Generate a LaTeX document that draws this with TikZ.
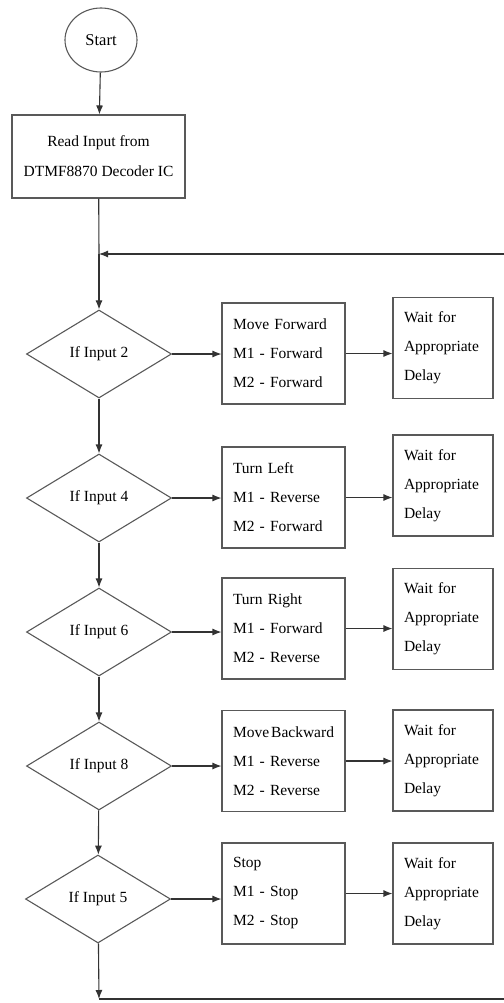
\documentclass[tikz,border=0pt]{standalone}
\usepackage{fontspec}
\setmainfont{Liberation Serif}
\usetikzlibrary{shapes.geometric, arrows.meta}
\tikzset{ term/.style = { ellipse
                        , draw = black!65
                        , line width   = 1.1pt
                        , inner sep    = 0pt
                        , minimum width  = 72pt
                        , minimum height = 64pt
                        , font = \fontsize{16.5}{20}\selectfont
                        },
          proc/.style = { rectangle
                        , draw = black!65
                        , line width   = 1.1pt
                        , align = center
                        , minimum width  = 173pt
                        , minimum height = 83pt
                        , font = \fontsize{15.5}{30}\selectfont
                        },
          decide/.style = { diamond
                        , draw = black!65
                        , line width   = 1.1pt
                        , inner sep    = 0pt
                        , minimum width  = 145pt
                        , minimum height = 88pt
                        , font = \fontsize{15.5}{20}\selectfont
                        },
          act/.style  = { rectangle
                        , draw = black!65
                        , line width   = 1.1pt
                        , align = left
                        , inner xsep = 11pt
                        , text width = 101pt
                        , minimum height = 101pt
                        , font = \fontsize{15.5}{29}\selectfont
                        },
          wbox/.style = { act
                        , text width = 78pt
                        },
          flow/.style = { draw = black!80
                        , line width = 1.1pt
                        , -{Latex[length=9pt, width=7pt]}
                        }
        }
\begin{document}
\begin{tikzpicture}[x=1pt, y=-1pt]
    \useasboundingbox (0,0) rectangle (503,1003);
    \node[term] (start) at (101,40)    {Start};
    \node[proc] (read)  at (98.5,156.5) {Read Input from\\DTMF8870 Decoder IC};
    \coordinate (join) at (99,254);
    % decisions
    \node[decide] (d1) at (99,354) {If Input 2};
    \node[decide] (d2) at (99,498) {If Input 4};
    \node[decide] (d3) at (99,632) {If Input 6};
    \node[decide] (d4) at (99,766) {If Input 8};
    \node[decide] (d5) at (98,899) {If Input 5};
    % motor actions
    \node[act] (b1) at (283.5,353.5) {Move Forward\\M1 - Forward\\M2 - Forward};
    \node[act] (b2) at (283.5,497.5) {Turn Left\\M1 - Reverse\\M2 - Forward};
    \node[act] (b3) at (283.5,628.5) {Turn Right\\M1 - Forward\\M2 - Reverse};
    \node[act] (b4) at (283.5,761)   {\mbox{Move\hspace{2pt}Backward}\\M1 - Reverse\\M2 - Reverse};
    \node[act] (b5) at (283.5,893.5) {Stop\\M1 - Stop\\M2 - Stop};
    % delays
    \node[wbox] (w1) at (443,348)   {Wait for\\Appropriate\\Delay};
    \node[wbox] (w2) at (443,485.5) {Wait for\\Appropriate\\Delay};
    \node[wbox] (w3) at (443,619)   {Wait for\\Appropriate\\Delay};
    \node[wbox] (w4) at (443,760.5) {Wait for\\Appropriate\\Delay};
    \node[wbox] (w5) at (443,893.5) {Wait for\\Appropriate\\Delay};
    \coordinate (bot)  at (99,999);
    \coordinate (botR) at (508,999);
    \coordinate (topR) at (508,254);

    \path[flow] (start) -- (read);
    \path[flow, -] (read) -- (join);
    \path[flow] (join) -- (d1);
    \path[flow] (d1) -- (d2);
    \path[flow] (d2) -- (d3);
    \path[flow] (d3) -- (d4);
    \path[flow] (d4) -- (d5);
    \path[flow] (d5) -- (bot);
    \foreach \i in {1,...,5} {
        \path[flow] (d\i.east) -- (b\i.west |- d\i.east);
        \path[flow] (b\i.east) -- (w\i.west |- b\i.east);
    }
    \path[flow] (bot) -- (botR) -- (topR) -- (join);
\end{tikzpicture}
\end{document}
